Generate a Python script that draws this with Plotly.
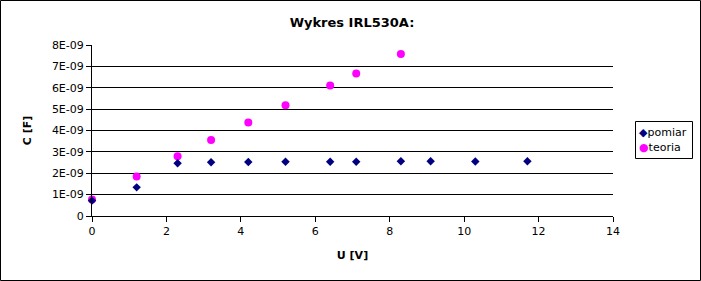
import plotly.graph_objects as go

# Data
u_pomiar = [0, 1.2, 2.3, 3.2, 4.2, 5.2, 6.4, 7.1, 8.3, 9.1, 10.3, 11.7]
c_pomiar = [0.72e-9, 1.34e-9, 2.47e-9, 2.51e-9, 2.53e-9, 2.54e-9, 2.54e-9, 2.54e-9,
            2.56e-9, 2.56e-9, 2.55e-9, 2.56e-9]
u_teoria = [0, 1.2, 2.3, 3.2, 4.2, 5.2, 6.4, 7.1, 8.3]
c_teoria = [0.77e-9, 1.85e-9, 2.79e-9, 3.55e-9, 4.37e-9, 5.18e-9, 6.11e-9, 6.67e-9, 7.58e-9]

y_tickvals = [0, 1e-9, 2e-9, 3e-9, 4e-9, 5e-9, 6e-9, 7e-9, 8e-9]
y_ticktext = ["0", "1E-09", "2E-09", "3E-09", "4E-09", "5E-09", "6E-09", "7E-09", "8E-09"]
x_tickvals = [0, 2, 4, 6, 8, 10, 12, 14]

series_names = ["pomiar", "teoria"]
series_colors = ["#000080", "#FF00FF"]
series_glyphs = ["◆", "●"]

W, H = 701, 281
ML, MR, MT, MB = 92, 88, 45, 65
PW, PH = W - ML - MR, H - MT - MB

def px_x(p):
    return (p - ML) / PW

def px_y(p):
    return (MT + PH - p) / PH

font = "DejaVu Sans"

fig = go.Figure()
fig.add_trace(go.Scatter(
    x=u_teoria, y=c_teoria, mode="markers", name=series_names[1], cliponaxis=False,
    marker=dict(symbol="circle", size=8, color=series_colors[1]),
))
fig.add_trace(go.Scatter(
    x=u_pomiar, y=c_pomiar, mode="markers", name=series_names[0], cliponaxis=False,
    marker=dict(symbol="diamond", size=6.5, color=series_colors[0]),
))

fig.update_layout(
    width=W, height=H,
    margin=dict(l=ML, r=MR, t=MT, b=MB, autoexpand=False),
    paper_bgcolor="white", plot_bgcolor="white",
    font=dict(family=font, size=11, color="black"),
    title=dict(text="<b>Wykres IRL530A:</b>", x=px_x(352), xref="paper",
               xanchor="center", y=1 - 22 / H, yanchor="middle",
               font=dict(family=font, size=13, color="black")),
    showlegend=False,
)

fig.update_xaxes(
    range=[0, 14], tickvals=x_tickvals, showgrid=False, zeroline=False,
    showline=True, linecolor="black", linewidth=1,
    ticks="outside", ticklen=5, tickcolor="black",
    title=dict(text="<b>U [V]</b>", font=dict(family=font, size=11), standoff=14),
)
fig.update_yaxes(
    range=[0, 8e-9], tickvals=y_tickvals, ticktext=y_ticktext,
    showgrid=True, gridcolor="black", gridwidth=1, zeroline=False,
    showline=True, linecolor="black", linewidth=1,
    ticks="outside", ticklen=5, tickcolor="black",
    title=dict(text="<b>C [F]</b>", font=dict(family=font, size=11), standoff=18),
)

# outer frame around the whole chart
fig.add_shape(type="rect", xref="paper", yref="paper",
              x0=px_x(0.5), x1=px_x(W - 0.5), y0=px_y(H - 0.5), y1=px_y(0.5),
              line=dict(color="black", width=1), fillcolor="rgba(0,0,0,0)", layer="below")

# legend box (drawn manually to match compact spreadsheet legend)
fig.add_shape(type="rect", xref="paper", yref="paper",
              x0=px_x(635.5), x1=px_x(692.5), y0=px_y(158.5), y1=px_y(121.5),
              line=dict(color="black", width=1), fillcolor="white", layer="above")
for i, (name, col, g) in enumerate(zip(series_names, series_colors, series_glyphs)):
    fig.add_annotation(
        xref="paper", yref="paper", x=px_x(637), y=px_y(132 + 15 * i),
        xanchor="left", yanchor="middle", showarrow=False,
        text=f"<span style='color:{col}'>{g}</span>{name}",
        font=dict(family=font, size=11, color="black"),
    )

fig.write_html("out.html")
